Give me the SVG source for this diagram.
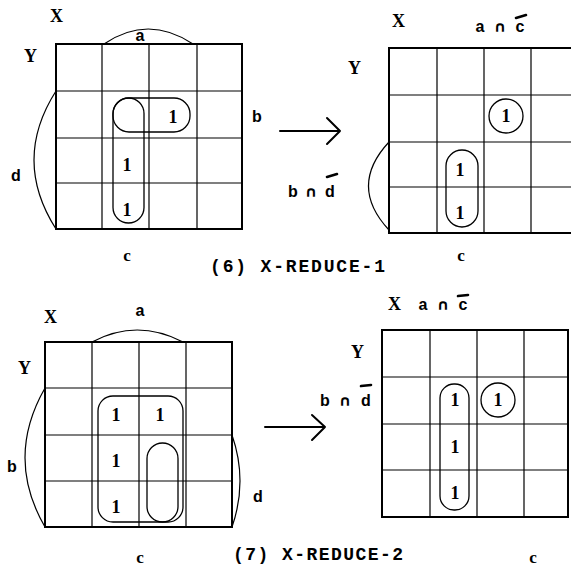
<svg xmlns="http://www.w3.org/2000/svg" width="571" height="571" viewBox="0 0 571 571">
<style>
.bg{fill:#fff}
.outer{fill:none;stroke:#000;stroke-width:2}
.in{stroke:#000;stroke-width:1.2;fill:none}
.arc{fill:none;stroke:#000;stroke-width:1.2}
.loop{fill:none;stroke:#000;stroke-width:1.3}
.t{font-family:"Liberation Serif","DejaVu Serif",serif;font-weight:bold;font-size:18px;fill:#000}
.one{font-family:"Liberation Serif","DejaVu Serif",serif;font-weight:bold;font-size:18px;fill:#000;text-anchor:middle}
.s{font-family:"Liberation Sans","DejaVu Sans",sans-serif;font-weight:bold;font-size:16px;fill:#000;text-anchor:middle}
.n{font-family:"DejaVu Sans",sans-serif;font-weight:bold;font-size:15px;fill:#000;text-anchor:middle}
.cap{font-family:"Liberation Mono","DejaVu Sans Mono",monospace;font-weight:bold;font-size:18px;fill:#000}
.bar{stroke:#000;stroke-width:2.6;stroke-linecap:round}
.arrow{fill:none;stroke:#000;stroke-width:2;stroke-linecap:round;stroke-linejoin:round}
</style>
<rect class="bg" width="571" height="571"/>

<g id="map6a">
<rect class="outer" x="56" y="44" width="186" height="185"/>
<path class="in" d="M102 44V229M149 44V229M197 44V229M56 91H242M56 138H242M56 183H242"/>
<path class="arc" d="M104 44Q148 14 193 44"/>
<path class="arc" d="M56 91Q12 160 56 229"/>
<text class="t" x="50" y="22">X</text>
<text class="t" x="24" y="62">Y</text>
<text class="s" x="140" y="41">a</text>
<text class="s" x="257" y="122">b</text>
<text class="s" x="16" y="181">d</text>
<text class="one" x="127" y="261" style="font-size:17px">c</text>
<rect class="loop" x="113" y="98" width="77" height="34" rx="16"/>
<rect class="loop" x="113" y="98" width="31" height="125" rx="15.5"/>
<text class="one" x="173" y="123">1</text>
<text class="one" x="127" y="171">1</text>
<text class="one" x="127" y="216">1</text>
</g>

<g id="map6b">
<rect class="outer" x="389" y="48" width="190" height="185"/>
<path class="in" d="M437 48V233M484 48V233M531 48V233M389 95H571M389 142H571M389 187H571"/>
<path class="arc" d="M389 142Q348 186 389 230"/>
<text class="t" x="392" y="27">X</text>
<text class="t" x="348" y="74">Y</text>
<text class="s" x="480" y="32">a</text>
<text class="n" x="500" y="32">∩</text>
<text class="s" x="520" y="32">c</text>
<line class="bar" x1="516" y1="18" x2="526" y2="15"/>
<text class="s" x="293" y="197">b</text>
<text class="n" x="311" y="197">∩</text>
<text class="s" x="330" y="197">d</text>
<line class="bar" x1="327" y1="177" x2="337" y2="174"/>
<text class="one" x="461" y="261" style="font-size:17px">c</text>
<circle class="loop" cx="506" cy="116" r="17"/>
<text class="one" x="506" y="122">1</text>
<rect class="loop" x="446" y="150" width="32" height="77" rx="16"/>
<text class="one" x="460" y="176">1</text>
<text class="one" x="460" y="219">1</text>
</g>

<g id="map7a">
<rect class="outer" x="45" y="342" width="187" height="185"/>
<path class="in" d="M92 342V527M139 342V527M186 342V527M45 388H232M45 435H232M45 481H232"/>
<path class="arc" d="M92 342Q137 318 183 342"/>
<path class="arc" d="M45 388Q5 458 45 527"/>
<path class="arc" d="M232 435Q248 481 232 527"/>
<text class="t" x="44" y="323">X</text>
<text class="t" x="18" y="374">Y</text>
<text class="s" x="140" y="316">a</text>
<text class="s" x="12" y="472">b</text>
<text class="s" x="258" y="502">d</text>
<text class="one" x="140" y="563" style="font-size:17px">c</text>
<rect class="loop" x="98" y="396" width="85" height="126" rx="15"/>
<rect class="loop" x="147" y="443" width="31" height="79" rx="15.5"/>
<text class="one" x="116" y="421">1</text>
<text class="one" x="160" y="421">1</text>
<text class="one" x="116" y="467">1</text>
<text class="one" x="116" y="513">1</text>
</g>

<g id="map7b">
<rect class="outer" x="382" y="330" width="186" height="187"/>
<path class="in" d="M430 330V517M477 330V517M524 330V517M382 377H568M382 424H568M382 470H568"/>
<text class="t" x="388" y="310">X</text>
<text class="t" x="351" y="358">Y</text>
<text class="s" x="423" y="310">a</text>
<text class="n" x="443" y="310">∩</text>
<text class="s" x="463" y="310">c</text>
<line class="bar" x1="458" y1="296" x2="468" y2="295"/>
<text class="s" x="325" y="406">b</text>
<text class="n" x="345" y="406">∩</text>
<text class="s" x="366" y="406">d</text>
<line class="bar" x1="361" y1="386" x2="371" y2="385"/>
<text class="one" x="533" y="563" style="font-size:17px">c</text>
<rect class="loop" x="440" y="384" width="29" height="126" rx="14"/>
<circle class="loop" cx="498" cy="400" r="17"/>
<text class="one" x="455" y="406">1</text>
<text class="one" x="498" y="406">1</text>
<text class="one" x="455" y="453">1</text>
<text class="one" x="455" y="499">1</text>
</g>

<g id="connectors">
<path class="arrow" d="M280 131H340M327 118L340 131L327 144"/>
<path class="arrow" d="M265 427H325M312 415L325 427L312 440"/>
</g>

<text class="cap" x="210" y="272" textLength="175" lengthAdjust="spacing">(6) X-REDUCE-1</text>
<text class="cap" x="233" y="560" textLength="170" lengthAdjust="spacing">(7) X-REDUCE-2</text>
</svg>
